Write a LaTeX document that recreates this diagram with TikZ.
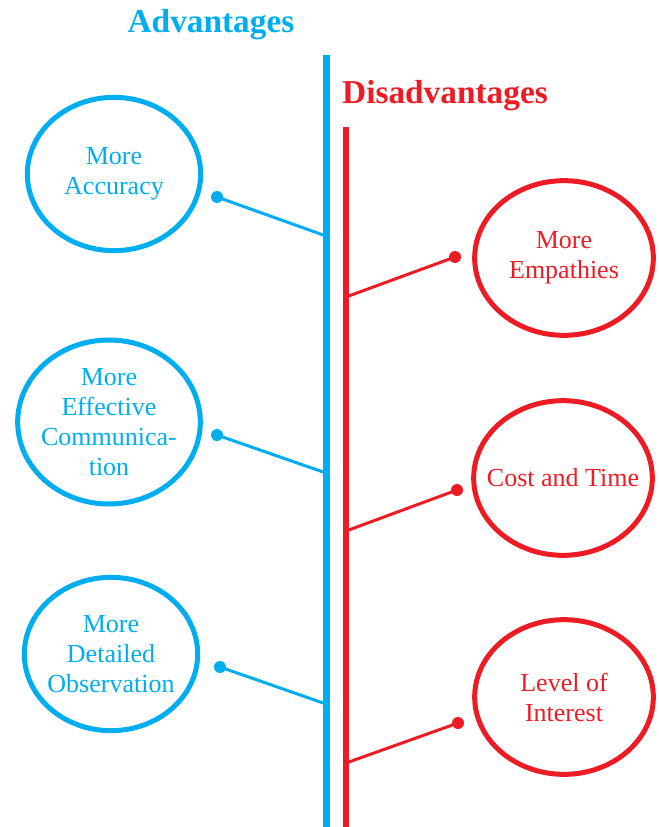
\documentclass[tikz,border=0pt]{standalone}
\usepackage{fontspec}
\setmainfont{Liberation Serif}
\usetikzlibrary{shapes.geometric}
\definecolor{advblue}{RGB}{0,174,239}
\definecolor{disred}{RGB}{237,28,36}

\begin{document}
\begin{tikzpicture}[x=0.75pt, y=-0.75pt,
        bubble/.style={ellipse, line width=3.75pt, align=center, inner xsep=-15pt, inner ysep=-10pt,
            font=\fontsize{19.5}{22.5}\selectfont},
        advbubble/.style={bubble, draw=advblue, text=advblue},
        disbubble/.style={bubble, draw=disred, text=disred},
        pin/.style={circle, inner sep=0pt, minimum size=9pt},
        heading/.style={anchor=base, font=\fontsize{25}{30}\selectfont\bfseries}]
    \useasboundingbox (0,0) rectangle (659,827);
    % the two bars
    \coordinate (advtop) at (326,55);
    \coordinate (advbot) at (326,827);
    \coordinate (distop) at (346,127);
    \coordinate (disbot) at (346,827);
    \draw[advblue, line width=5.25pt] (advtop) -- (advbot);
    \draw[disred, line width=4.9pt] (distop) -- (disbot);
    \node[heading, text=advblue] (advtitle) at (211,33) {Advantages};
    \node[heading, text=disred] (distitle) at (445,104) {Disadvantages};
    % advantages on the left
    \foreach \nm/\cx/\cy/\w/\h/\dx/\dy/\jy/\txt in {
            acc/114/174/130/115/217/197/236/{More\\Accuracy},
            comm/109/422/137/123/217/435/473/{More\\Effective\\Communica-\\tion},
            obs/111/654/130/115/220/667/704/{More\\Detailed\\Observation}}{
        \node[advbubble, minimum width=\w pt, minimum height=\h pt] (\nm) at (\cx,\cy) {\txt};
        \node[pin, fill=advblue] (\nm pin) at (\dx,\dy) {};
        \coordinate (\nm join) at (326,\jy);
        \draw[advblue, line width=2.25pt] (\nm pin.center) -- (\nm join);
    }
    % disadvantages on the right
    \foreach \nm/\cx/\cy/\dx/\dy/\jy/\txt in {
            emp/564/258/455/257/297/{More\\Empathies},
            cost/563/478/457/490/531/{Cost and Time},
            lvl/564/697/458/723/763/{Level of\\Interest}}{
        \node[disbubble, minimum width=134pt, minimum height=116pt] (\nm) at (\cx,\cy) {\txt};
        \node[pin, fill=disred] (\nm pin) at (\dx,\dy) {};
        \coordinate (\nm join) at (346,\jy);
        \draw[disred, line width=2.25pt] (\nm pin.center) -- (\nm join);
    }
\end{tikzpicture}
\end{document}
